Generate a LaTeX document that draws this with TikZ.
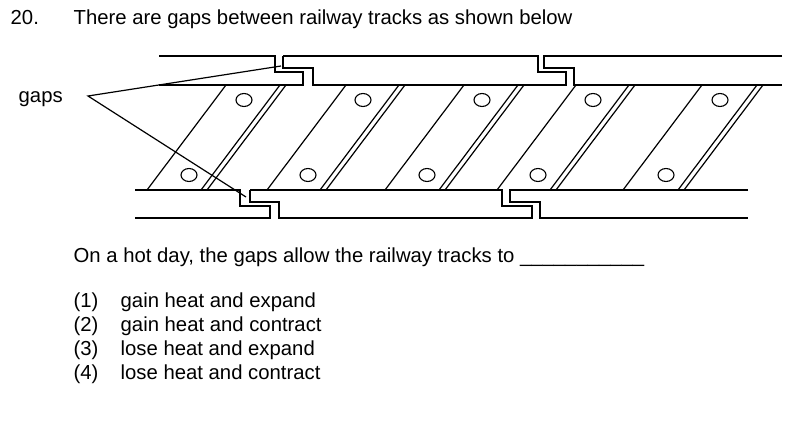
\documentclass[tikz,border=0pt]{standalone}
\usepackage{fontspec}
\setmainfont{Liberation Sans}
\usetikzlibrary{shapes.geometric}
\begin{document}
\begin{tikzpicture}[x=1pt,y=-1pt,line width=1.4pt,
  txt/.style={anchor=base west,inner sep=0pt,font=\fontsize{20.3}{24}\selectfont},
  bolt/.style={draw,ellipse,minimum width=16pt,minimum height=13pt,inner sep=0pt,line width=1.1pt},
  rail/.style={line width=1.4pt},sl/.style={line width=1.2pt}]
\useasboundingbox (0,0) rectangle (809,425);
% text
\node[txt] (num) at (10,25) {20.};
\node[txt] (q) at (73,25) {There are gaps between railway tracks as shown below};
\node[txt] (gaps) at (18,103) {gaps};
\node[txt] (hot) at (73,262) {On a hot day, the gaps allow the railway tracks to \_\_\_\_\_\_\_\_\_\_\_};
\foreach \n/\t [count=\i] in {(1)/gain heat and expand,(2)/gain heat and contract,(3)/lose heat and expand,(4)/lose heat and contract}{
  \node[txt] (o\i) at (73,283+\i*24) {\n};
  \node[txt] (t\i) at (120,283+\i*24) {\t};
}
% sleepers
\foreach \b in {147,267,385,497,623}{\draw[sl] (\b,190) -- (\b+79,85);}
\foreach \b in {201,320,439,550,678}{\draw[sl] (\b,190) -- (\b+79,85); \draw[sl] (\b+6,190) -- (\b+85,85);}
% bolts
\foreach \x in {244,363,482,593,720}{\node[bolt] (bt\x) at (\x,100) {};}
\foreach \x in {189,308,427,538,666}{\node[bolt] (bb\x) at (\x,175) {};}
% top rail
\draw[rail] (159,56) -- (275,56) -- (275,72) -- (303,72) -- (303,85) -- (159,85);
\draw[rail] (283,56) -- (283,68) -- (313,68) -- (313,85) -- (566,85) -- (566,72) -- (538,72) -- (538,56) -- (283,56);
\draw[rail] (782,56) -- (544,56) -- (544,68) -- (574,68) -- (574,85) -- (782,85);
% bottom rail
\draw[rail] (135,190) -- (240,190) -- (240,206) -- (270,206) -- (270,218) -- (135,218);
\draw[rail] (250,190) -- (250,202) -- (279,202) -- (279,218) -- (532,218) -- (532,206) -- (502,206) -- (502,190) -- (250,190);
\draw[rail] (748,190) -- (510,190) -- (510,202) -- (540,202) -- (540,218) -- (748,218);
% pointers
\coordinate (p0) at (88,96);
\coordinate (g1) at (281,66);
\coordinate (g2) at (246,197);
\draw[line width=1.2pt] (g1) -- (p0) -- (g2);
\end{tikzpicture}
\end{document}
